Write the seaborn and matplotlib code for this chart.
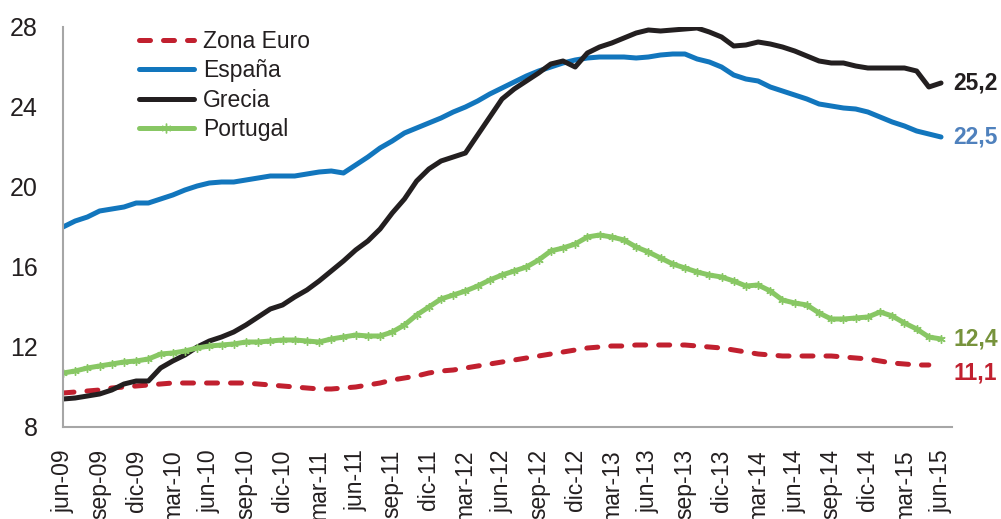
import matplotlib
matplotlib.use("Agg")
import matplotlib.pyplot as plt
import seaborn as sns
import pandas as pd
import numpy as np
from matplotlib.lines import Line2D

# ---- data (monthly, jun-09 .. jun-15) ----
tick_labels = ["jun-09", "sep-09", "dic-09", "mar-10", "jun-10", "sep-10", "dic-10",
               "mar-11", "jun-11", "sep-11", "dic-11", "mar-12", "jun-12", "sep-12",
               "dic-12", "mar-13", "jun-13", "sep-13", "dic-13", "mar-14", "jun-14",
               "sep-14", "dic-14", "mar-15", "jun-15"]

zona_euro = [9.7, 9.75, 9.8, 9.85, 9.95, 10.0, 10.05, 10.1, 10.15, 10.2, 10.2, 10.2,
             10.2, 10.2, 10.2, 10.2, 10.15, 10.1, 10.05, 10.0, 9.95, 9.9, 9.9, 9.95,
             10.0, 10.1, 10.2, 10.35, 10.45, 10.55, 10.7, 10.8, 10.85, 10.95, 11.05, 11.15,
             11.25, 11.35, 11.45, 11.55, 11.65, 11.75, 11.85, 11.95, 12.0, 12.05, 12.05, 12.1,
             12.1, 12.1, 12.1, 12.1, 12.05, 12.0, 11.95, 11.85, 11.75, 11.65, 11.6, 11.55,
             11.55, 11.55, 11.55, 11.55, 11.5, 11.45, 11.4, 11.3, 11.2, 11.15, 11.1, 11.1]

espana = [18.0, 18.3, 18.5, 18.8, 18.9, 19.0, 19.2, 19.2, 19.4, 19.6, 19.85, 20.05,
          20.2, 20.25, 20.25, 20.35, 20.45, 20.55, 20.55, 20.55, 20.65, 20.75, 20.8, 20.7,
          21.1, 21.5, 21.95, 22.3, 22.7, 22.95, 23.2, 23.45, 23.75, 24.0, 24.3, 24.65,
          24.95, 25.25, 25.55, 25.8, 26.0, 26.2, 26.35, 26.45, 26.5, 26.5, 26.5, 26.45,
          26.5, 26.6, 26.65, 26.65, 26.4, 26.25, 26.0, 25.6, 25.4, 25.3, 25.0, 24.8,
          24.6, 24.4, 24.15, 24.05, 23.95, 23.9, 23.75, 23.5, 23.25, 23.05, 22.8, 22.65, 22.5]

grecia = [9.4, 9.45, 9.55, 9.65, 9.85, 10.15, 10.3, 10.3, 10.95, 11.3, 11.6, 12.0,
          12.3, 12.5, 12.75, 13.1, 13.5, 13.9, 14.1, 14.5, 14.85, 15.3, 15.8, 16.3,
          16.85, 17.3, 17.9, 18.7, 19.4, 20.3, 20.9, 21.3, 21.5, 21.7, 22.6, 23.5,
          24.4, 24.9, 25.3, 25.7, 26.15, 26.3, 26.0, 26.7, 27.0, 27.2, 27.45, 27.7,
          27.85, 27.8, 27.85, 27.9, 27.95, 27.75, 27.5, 27.05, 27.1, 27.25, 27.15, 27.0,
          26.8, 26.55, 26.3, 26.2, 26.2, 26.05, 25.95, 25.95, 25.95, 25.95, 25.8, 25.0, 25.2]

portugal = [10.7, 10.8, 10.95, 11.05, 11.15, 11.25, 11.3, 11.4, 11.65, 11.7, 11.8, 11.95,
            12.05, 12.1, 12.15, 12.25, 12.25, 12.3, 12.35, 12.35, 12.3, 12.25, 12.4, 12.5,
            12.6, 12.55, 12.55, 12.75, 13.1, 13.6, 14.0, 14.4, 14.6, 14.8, 15.05, 15.35,
            15.6, 15.8, 16.0, 16.35, 16.8, 16.95, 17.15, 17.5, 17.6, 17.5, 17.35, 17.0,
            16.75, 16.45, 16.15, 15.95, 15.75, 15.6, 15.5, 15.3, 15.05, 15.1, 14.8, 14.35,
            14.2, 14.1, 13.7, 13.4, 13.4, 13.45, 13.5, 13.75, 13.55, 13.2, 12.9, 12.5, 12.4]

end_labels = ["25,2", "22,5", "12,4", "11,1"]
end_label_y = [25.2, 22.5, 12.4, 10.7]

# ---- style ----
sns.set_style("white")
plt.rcParams["font.family"] = ["Liberation Sans", "DejaVu Sans"]

fig = plt.figure(figsize=(10.01, 5.19), dpi=100)
ax = fig.add_axes([63 / 1001, 1 - 427 / 519, (952 - 63) / 1001, 400 / 519])

c_euro = "#C1202F"
c_esp = "#1276BD"
c_gre = "#231F20"
c_por = "#88C764"
lw = 3.6

def frame(vals):
    return pd.DataFrame({"m": np.arange(len(vals)), "v": vals})

sns.lineplot(data=frame(zona_euro), x="m", y="v", ax=ax, color=c_euro, lw=lw)
ax.lines[-1].set_dashes((2.2, 2.6))
ax.lines[-1].set_dash_capstyle("round")
sns.lineplot(data=frame(espana), x="m", y="v", ax=ax, color=c_esp, lw=lw)
sns.lineplot(data=frame(grecia), x="m", y="v", ax=ax, color=c_gre, lw=lw)
sns.lineplot(data=frame(portugal), x="m", y="v", ax=ax, color=c_por, lw=lw,
             marker=(6, 2, 0), markersize=6, markeredgecolor=c_por,
             markeredgewidth=1.0)
for ln in ax.lines:
    ln.set_solid_capstyle("round")

# end labels
label_colors = ["#231F20", "#4F81BD", "#77933C", "#C1202F"]
for txt, yy, col in zip(end_labels, end_label_y, label_colors):
    ax.text(73.0, yy, txt, color=col, fontsize=16.5, fontweight="bold",
            va="center", ha="left", clip_on=False)

# axes
ax.set_xlim(0, 72.9)
ax.set_ylim(8, 28)
ax.set_yticks([8, 12, 16, 20, 24, 28])
ax.set_xticks(np.arange(0, 73, 3))
ax.set_xticklabels(tick_labels, rotation=90, fontsize=16.5, color="#231F20")
ax.tick_params(axis="y", labelsize=18, colors="#231F20", length=6, width=1.3,
               pad=12, color="#A6A6A6")
ax.tick_params(axis="x", length=7, width=1.3, pad=9, color="#A6A6A6",
               labelcolor="#231F20")
ax.set_xlabel("")
ax.set_ylabel("")
for s in ["top", "right"]:
    ax.spines[s].set_visible(False)
for s in ["left", "bottom"]:
    ax.spines[s].set_color("#A6A6A6")
    ax.spines[s].set_linewidth(1.5)

# legend
handles = [
    Line2D([0], [0], color=c_euro, lw=lw, dashes=(2.2, 2.6), dash_capstyle="round"),
    Line2D([0], [0], color=c_esp, lw=lw, solid_capstyle="round"),
    Line2D([0], [0], color=c_gre, lw=lw, solid_capstyle="round"),
    Line2D([0, 0.5, 1], [0, 0, 0], color=c_por, lw=lw, solid_capstyle="round",
           marker=(6, 2, 0), markersize=7, markeredgecolor=c_por, markeredgewidth=1.0,
           markevery=[1]),
]
names = ["Zona Euro", "España", "Grecia", "Portugal"]
leg = ax.legend(handles, names, loc="upper left", bbox_to_anchor=(0.075, 1.015),
                frameon=False, fontsize=16.5, handlelength=2.4, handletextpad=0.4,
                labelspacing=0.27, borderaxespad=0.0)
for t in leg.get_texts():
    t.set_color("#231F20")

fig.savefig("out.png", dpi=100)
